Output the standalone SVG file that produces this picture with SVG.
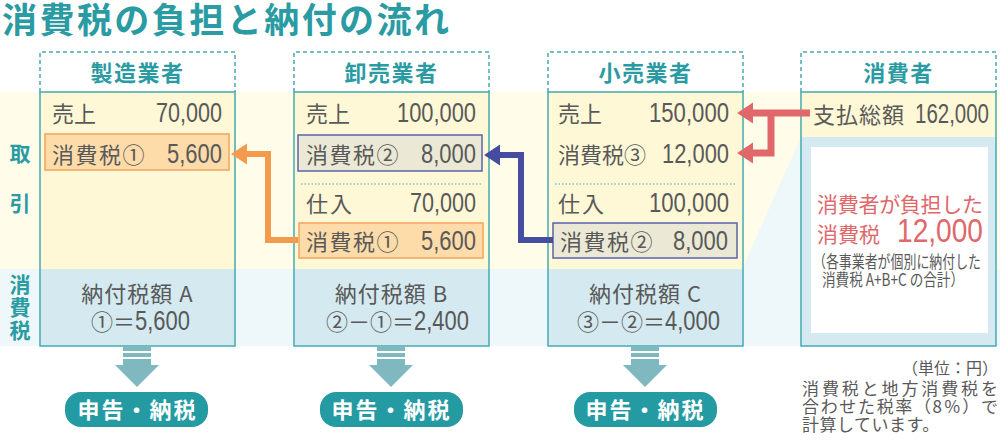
<svg xmlns="http://www.w3.org/2000/svg" width="1000" height="442" viewBox="0 0 1000 442">
<style>
.jp{font-family:'Noto Sans CJK JP',sans-serif}
.num{font-family:'Liberation Sans',sans-serif}
.teal{fill:#2a9ba3;font-weight:bold}
.body{fill:#595959;font-size:22px}
.n{font-size:27px;fill:#595959}
.hdr{fill:none;stroke:#45aab2;stroke-width:1.5;stroke-dasharray:4 3}
.col{fill:none;stroke:#45aab2;stroke-width:1.5}
.cy{fill:#fef8d6}
.cb{fill:#d4eaf0}
.dot{stroke:#45aab2;stroke-width:1;stroke-dasharray:1.5 2}
.obox{fill:#fddcaa;stroke:#f4a35c;stroke-width:1.5}
.gbox{fill:#ebe9d5;stroke:#5b62ad;stroke-width:1.5}
.dn{fill:#80b8bf}
.pill{fill:#249ba2}
.pt{fill:#fff;font-size:22px;font-weight:bold;letter-spacing:2px}
</style>
<defs>
<marker id="ho" markerUnits="userSpaceOnUse" markerWidth="16" markerHeight="22" viewBox="0 0 15 20" refX="2" refY="10" orient="auto"><path d="M0,0 L15,10 L0,20 z" fill="#f39a4c"/></marker>
<marker id="hb" markerUnits="userSpaceOnUse" markerWidth="16" markerHeight="22" viewBox="0 0 15 20" refX="2" refY="10" orient="auto"><path d="M0,0 L15,10 L0,20 z" fill="#464c9f"/></marker>
<marker id="hr" markerUnits="userSpaceOnUse" markerWidth="16" markerHeight="22" viewBox="0 0 15 20" refX="2" refY="10" orient="auto"><path d="M0,0 L15,10 L0,20 z" fill="#e0676a"/></marker>
<g id="downArrow">
<rect x="-14" y="0" width="28" height="4"/>
<rect x="-14" y="6" width="28" height="4"/>
<rect x="-14" y="12" width="28" height="7"/>
<path d="M-22,18 L22,18 L0,40 z"/>
</g>
</defs>

<!-- background bands -->
<rect x="0" y="92" width="1000" height="177" fill="#fffcea"/>
<rect x="0" y="269" width="1000" height="77" fill="#eef7f9"/>
<polygon points="801,137 801,346 743,346 743,267" fill="#eef7f9"/>

<text class="jp teal" x="2" y="33" font-size="35" textLength="447">消費税の負担と納付の流れ</text>

<g id="sideLabels" class="jp teal" font-size="21" text-anchor="middle">
<text x="20" y="161">取</text>
<text x="20" y="211">引</text>
<text x="20" y="292">消</text>
<text x="20" y="315">費</text>
<text x="20" y="338">税</text>
</g>

<!-- 製造業者 -->
<g id="manufacturer">
<path class="hdr" d="M40,92 V52 H235 V92"/>
<rect class="cy" x="40" y="92" width="195" height="177"/>
<rect class="cb" x="40" y="269" width="195" height="77"/>
<rect class="col" x="40" y="92" width="195" height="254"/>
<text class="jp teal" x="137.5" y="81" font-size="22" text-anchor="middle" letter-spacing="1.5">製造業者</text>
<text class="jp body" x="52" y="122">売上</text>
<text class="num n" x="222" y="122" text-anchor="end" textLength="66" lengthAdjust="spacingAndGlyphs">70,000</text>
<rect class="obox" x="45" y="134" width="184" height="36"/>
<text class="jp body" x="52" y="163" letter-spacing="1.5">消費税①</text>
<text class="num n" x="222" y="163" text-anchor="end" textLength="55" lengthAdjust="spacingAndGlyphs">5,600</text>
<text class="jp body" x="137.5" y="302" text-anchor="middle" letter-spacing="1">納付税額 A</text>
<text class="jp body" x="135" y="330" text-anchor="end">①＝</text>
<text class="num n" x="190" y="330" text-anchor="end" textLength="55" lengthAdjust="spacingAndGlyphs">5,600</text>
</g>

<!-- 卸売業者 -->
<g id="wholesaler">
<path class="hdr" d="M294,92 V52 H489 V92"/>
<rect class="cy" x="294" y="92" width="195" height="177"/>
<rect class="cb" x="294" y="269" width="195" height="77"/>
<rect class="col" x="294" y="92" width="195" height="254"/>
<text class="jp teal" x="391.5" y="81" font-size="22" text-anchor="middle" letter-spacing="1.5">卸売業者</text>
<text class="jp body" x="306" y="122">売上</text>
<text class="num n" x="476" y="122" text-anchor="end" textLength="79" lengthAdjust="spacingAndGlyphs">100,000</text>
<rect class="gbox" x="298" y="135" width="184" height="36"/>
<text class="jp body" x="306" y="163" letter-spacing="1.5">消費税②</text>
<text class="num n" x="476" y="163" text-anchor="end" textLength="55" lengthAdjust="spacingAndGlyphs">8,000</text>
<line class="dot" x1="301" y1="184" x2="483" y2="184"/>
<text class="jp body" x="306" y="212" letter-spacing="2">仕入</text>
<text class="num n" x="476" y="212" text-anchor="end" textLength="66" lengthAdjust="spacingAndGlyphs">70,000</text>
<rect class="obox" x="299" y="223" width="184" height="35"/>
<text class="jp body" x="306" y="250" letter-spacing="1.5">消費税①</text>
<text class="num n" x="476" y="250" text-anchor="end" textLength="55" lengthAdjust="spacingAndGlyphs">5,600</text>
<text class="jp body" x="391.5" y="302" text-anchor="middle" letter-spacing="1">納付税額 B</text>
<text class="jp body" x="414" y="330" text-anchor="end">②－①＝</text>
<text class="num n" x="469" y="330" text-anchor="end" textLength="55" lengthAdjust="spacingAndGlyphs">2,400</text>
</g>

<!-- 小売業者 -->
<g id="retailer">
<path class="hdr" d="M548,92 V52 H743 V92"/>
<rect class="cy" x="548" y="92" width="195" height="177"/>
<rect class="cb" x="548" y="269" width="195" height="77"/>
<rect class="col" x="548" y="92" width="195" height="254"/>
<text class="jp teal" x="645.5" y="81" font-size="22" text-anchor="middle" letter-spacing="1.5">小売業者</text>
<text class="jp body" x="558" y="122">売上</text>
<text class="num n" x="729" y="122" text-anchor="end" textLength="80" lengthAdjust="spacingAndGlyphs">150,000</text>
<text class="jp body" x="558" y="163">消費税③</text>
<text class="num n" x="729" y="163" text-anchor="end" textLength="67" lengthAdjust="spacingAndGlyphs">12,000</text>
<line class="dot" x1="555" y1="184" x2="737" y2="184"/>
<text class="jp body" x="558" y="212" letter-spacing="2">仕入</text>
<text class="num n" x="729" y="212" text-anchor="end" textLength="80" lengthAdjust="spacingAndGlyphs">100,000</text>
<rect class="gbox" x="553" y="223" width="184" height="35"/>
<text class="jp body" x="560" y="250" letter-spacing="1.5">消費税②</text>
<text class="num n" x="728" y="250" text-anchor="end" textLength="55" lengthAdjust="spacingAndGlyphs">8,000</text>
<text class="jp body" x="645.5" y="302" text-anchor="middle" letter-spacing="1">納付税額 C</text>
<text class="jp body" x="665" y="330" text-anchor="end">③－②＝</text>
<text class="num n" x="720" y="330" text-anchor="end" textLength="55" lengthAdjust="spacingAndGlyphs">4,000</text>
</g>

<!-- 消費者 -->
<g id="consumer">
<path class="hdr" d="M801,92 V52 H996 V92"/>
<rect class="cy" x="801" y="92" width="195" height="45"/>
<rect class="cb" x="801" y="137" width="195" height="209"/>
<rect x="811" y="147" width="177" height="186" fill="#ffffff"/>
<rect class="col" x="801" y="92" width="195" height="254"/>
<text class="jp teal" x="898.5" y="81" font-size="22" text-anchor="middle" letter-spacing="1.5">消費者</text>
<text class="jp body" x="813" y="123" letter-spacing="1">支払総額</text>
<text class="num n" x="989" y="123" text-anchor="end" textLength="74" lengthAdjust="spacingAndGlyphs">162,000</text>
<text class="jp" x="817" y="212" font-size="21" fill="#e0676a" textLength="166">消費者が負担した</text>
<text class="jp" x="817" y="242" font-size="21" fill="#e0676a">消費税</text>
<text class="num" x="983" y="242" font-size="34" fill="#e0676a" text-anchor="end" textLength="86" lengthAdjust="spacingAndGlyphs">12,000</text>
<text class="jp" x="813" y="268" font-size="17" fill="#595959" textLength="168" lengthAdjust="spacingAndGlyphs">（各事業者が個別に納付した</text>
<text class="jp" x="822" y="286" font-size="17" fill="#595959" textLength="142" lengthAdjust="spacingAndGlyphs">消費税 A+B+C の合計）</text>
</g>

<!-- connectors -->
<g id="connectors" fill="none">
<path d="M298,240 H268 V154 H245" stroke="#f39a4c" stroke-width="6" marker-end="url(#ho)"/>
<path d="M553,240 H521 V155 H498" stroke="#464c9f" stroke-width="6" marker-end="url(#hb)"/>
<path d="M810,113 H751" stroke="#e0676a" stroke-width="7" marker-end="url(#hr)"/>
<path d="M771,113 V153 H751" stroke="#e0676a" stroke-width="7" marker-end="url(#hr)"/>
</g>

<!-- down arrows and pills -->
<g id="file1">
<use href="#downArrow" x="137" y="347" class="dn"/>
<rect class="pill" x="65" y="392" width="143" height="35" rx="16"/>
<text class="jp pt" x="137.5" y="418" text-anchor="middle">申告・納税</text>
</g>
<g id="file2">
<use href="#downArrow" x="391" y="347" class="dn"/>
<rect class="pill" x="320" y="392" width="143" height="35" rx="16"/>
<text class="jp pt" x="391.5" y="418" text-anchor="middle">申告・納税</text>
</g>
<g id="file3">
<use href="#downArrow" x="645" y="347" class="dn"/>
<rect class="pill" x="574" y="392" width="143" height="35" rx="16"/>
<text class="jp pt" x="645.5" y="418" text-anchor="middle">申告・納税</text>
</g>

<g id="notes" class="jp" fill="#595959">
<text x="998" y="374" font-size="16" text-anchor="end">（単位：円）</text>
<text x="802" y="395" font-size="17" textLength="196">消費税と地方消費税を</text>
<text x="802" y="413" font-size="17" textLength="196">合わせた税率（8％）で</text>
<text x="802" y="431" font-size="17" letter-spacing="0.5">計算しています。</text>
</g>
</svg>
